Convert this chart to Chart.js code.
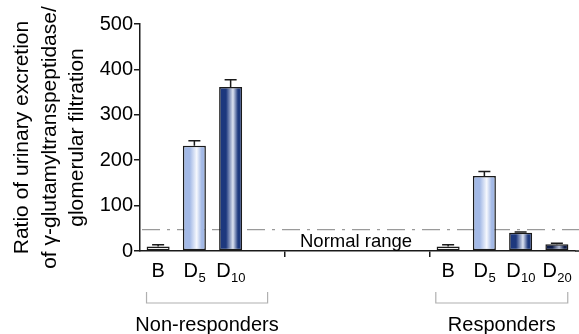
<!DOCTYPE html>
<html>
<head>
<meta charset="utf-8">
<script src="https://cdn.jsdelivr.net/npm/chart.js@4"></script>
<style>
  html, body { margin: 0; padding: 0; background: #fff; }
  #wrap { width: 579px; height: 334px; position: relative; }
</style>
</head>
<body>
<div id="wrap"><canvas id="chart"></canvas></div>
<script>
// categories: empty slots make the gap between the two groups
const CATEGORIES = ['B', 'D5', 'D10', '', '', '', '', '', 'B', 'D5', 'D10', 'D20'];
const MEANS      = [10, 232, 361, null, null, null, null, null, 10, 165, 40, 15];
const ERR_TOP    = [14, 243, 377, null, null, null, null, null, 14, 175, 42, 17];
const Y_TICKS    = [0, 100, 200, 300, 400, 500];
const NORMAL_RANGE = 47;
const GROUP_LABELS = ['Non-responders', 'Responders'];
const GROUP_SPANS  = [[-0.32, 3.02], [7.66, 11.3]]; // in unità di categoria

// colore base e riflesso per ogni tipo di barra
const FILLS = {
    B:   ['#ffffff', '#ffffff'],
    D5:  ['#a3b9e6', '#f6f8fd'],
    D10: ['#1d387e', '#dde3f2'],
    D20: ['#0e1c48', '#b4bdd6']
};

const INK = '#1a1a1a';
const FONT = "'Liberation Sans', Arial, sans-serif";
const BAR_HALF = 11.5;

Chart.defaults.font.family = FONT;
Chart.defaults.font.size = 18;
Chart.defaults.color = '#000';

function barFill(ctx) {
    const chart = ctx.chart;
    const key = CATEGORIES[ctx.dataIndex] || 'B';
    const [base, hi] = FILLS[key];
    if (!chart.chartArea || !chart.scales.x) return base;
    const cx = chart.scales.x.getPixelForValue(ctx.dataIndex);
    const g = chart.ctx.createLinearGradient(cx - BAR_HALF, 0, cx + BAR_HALF, 0);
    g.addColorStop(0, base);
    g.addColorStop(0.3, base);
    g.addColorStop(0.6, hi);
    g.addColorStop(0.82, base);
    g.addColorStop(1, base);
    return g;
}

// linea "normal range", barre d'errore, etichette con pedici, parentesi dei gruppi
const extras = {
    id: 'extras',
    beforeDatasetsDraw(chart) {
        const { ctx, chartArea, scales: { y } } = chart;
        const yy = y.getPixelForValue(NORMAL_RANGE);
        ctx.save();
        ctx.strokeStyle = '#9a9a9a';
        ctx.lineWidth = 1.2;
        ctx.setLineDash([18, 7, 3, 7]);
        ctx.beginPath();
        ctx.moveTo(chartArea.left + 2, yy);
        ctx.lineTo(chart.width, yy);
        ctx.stroke();
        ctx.setLineDash([]);
        ctx.fillStyle = '#000';
        ctx.font = '18.5px ' + FONT;
        ctx.textAlign = 'left';
        ctx.textBaseline = 'alphabetic';
        ctx.fillText('Normal range', 300, 247);
        ctx.restore();
    },
    afterDraw(chart) {
        const { ctx, chartArea, scales: { x, y } } = chart;
        const slot = x.getPixelForValue(1) - x.getPixelForValue(0);
        const x0 = x.getPixelForValue(0);
        ctx.save();
        // prolunga l'asse x fino al bordo
        ctx.strokeStyle = INK;
        ctx.lineWidth = 1.5;
        ctx.beginPath();
        ctx.moveTo(chartArea.right, chartArea.bottom);
        ctx.lineTo(chart.width, chartArea.bottom);
        ctx.stroke();

        // barre d'errore (solo verso l'alto)
        MEANS.forEach((v, i) => {
            if (v == null) return;
            const cx = x.getPixelForValue(i);
            const y0 = y.getPixelForValue(v);
            const y1 = y.getPixelForValue(ERR_TOP[i]);
            ctx.beginPath();
            ctx.moveTo(cx, y0);
            ctx.lineTo(cx, y1);
            ctx.moveTo(cx - 6, y1);
            ctx.lineTo(cx + 6, y1);
            ctx.stroke();
        });

        // etichette categorie con pedice
        ctx.fillStyle = '#000';
        ctx.textBaseline = 'alphabetic';
        CATEGORIES.forEach((lab, i) => {
            if (!lab) return;
            const main = lab.charAt(0);
            const sub = lab.slice(1);
            ctx.font = '20px ' + FONT;
            const wMain = ctx.measureText(main).width;
            ctx.font = '13px ' + FONT;
            const wSub = ctx.measureText(sub).width;
            const cx = x.getPixelForValue(i);
            const left = cx - (wMain + (sub ? wSub : 0)) / 2;
            ctx.font = '20px ' + FONT;
            ctx.textAlign = 'left';
            ctx.fillText(main, left, 277);
            if (sub) {
                ctx.font = '13px ' + FONT;
                ctx.fillText(sub, left + wMain + 0.5, 282);
            }
        });

        // parentesi e nomi dei gruppi
        ctx.strokeStyle = '#b0b0b0';
        ctx.lineWidth = 1.2;
        GROUP_SPANS.forEach(([f, t], gi) => {
            const a = x0 + f * slot;
            const b = x0 + t * slot;
            ctx.beginPath();
            ctx.moveTo(a, 292);
            ctx.lineTo(a, 303);
            ctx.lineTo(b, 303);
            ctx.lineTo(b, 292);
            ctx.stroke();
            ctx.font = '20px ' + FONT;
            ctx.textAlign = 'center';
            ctx.fillText(GROUP_LABELS[gi], (a + b) / 2, 331);
        });
        ctx.restore();
    }
};

new Chart(document.getElementById('chart'), {
    type: 'bar',
    data: {
        labels: CATEGORIES,
        datasets: [{
            data: MEANS,
            backgroundColor: barFill,
            borderColor: INK,
            borderWidth: 1.5,
            borderSkipped: false,
            categoryPercentage: 1,
            barPercentage: 0.635
        }]
    },
    options: {
        responsive: true,
        maintainAspectRatio: false,
        animation: false,
        layout: { padding: { top: 24, right: 4, left: 0, bottom: 0 } },
        plugins: { legend: { display: false }, tooltip: { enabled: false } },
        scales: {
            x: {
                afterFit: s => { s.height = 83; },
                ticks: { display: false },
                border: { display: true, color: INK, width: 1.5 },
                grid: {
                    drawOnChartArea: false,
                    tickLength: 6,
                    lineWidth: 1.5,
                    color: c => (c.index === 4 || c.index === 8) ? INK : 'rgba(0,0,0,0)'
                }
            },
            y: {
                min: 0,
                max: 500,
                afterFit: s => { s.width = 140; },
                afterBuildTicks: s => { s.ticks = Y_TICKS.map(v => ({ value: v })); },
                border: { display: true, color: INK, width: 1.5 },
                grid: { drawOnChartArea: false, tickLength: 6, color: INK, lineWidth: 1.5 },
                ticks: { color: '#000', padding: 1, font: { family: FONT, size: 20 } },
                title: {
                    display: true,
                    text: ['Ratio of urinary excretion', 'of γ-glutamyltranspeptidase/', 'glomerular filtration'],
                    color: '#000',
                    padding: { top: 9, bottom: 0 },
                    font: { family: FONT, size: 21, lineHeight: 1.3 }
                }
            }
        }
    },
    plugins: [extras]
});
</script>
</body>
</html>
